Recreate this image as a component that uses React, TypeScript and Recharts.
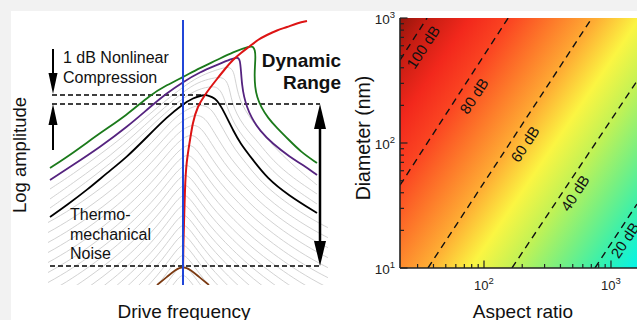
import React from "react";
import {
  ComposedChart,
  Line,
  XAxis,
  YAxis,
  ReferenceLine,
  ReferenceArea,
  Scatter,
} from "recharts";

type Pt = [number, number];
const FONT = "'Liberation Sans', Arial, Helvetica, sans-serif";

// ---------------- Left panel (x: detuning, arbitrary units; y: log amplitude, arbitrary units) ----------------
const blackCurve: Pt[] = [
  [-133, 68], [-116, 80], [-96, 95], [-76, 112], [-56, 128], [-36, 148], [-16, 168], [0, 181],
  [10, 187], [20, 190], [24, 190], [29, 188], [34, 185], [39, 177], [45, 165], [50, 155],
  [57, 142], [70, 125], [84, 107], [105, 90], [134, 72],
];
const purpleCurve: Pt[] = [
  [-133, 105], [-110, 120], [-83, 138], [-56, 158], [-33, 178], [-16, 192], [0, 203], [17, 213],
  [34, 220], [48, 226], [55, 228], [57, 225], [58, 214], [59, 200], [61, 188], [64, 178],
  [68, 168], [77, 154], [90, 141], [107, 128], [120, 120], [134, 110],
];
const greenCurve: Pt[] = [
  [-133, 117], [-110, 132], [-83, 152], [-56, 170], [-33, 190], [-16, 200], [0, 208], [17, 217],
  [34, 225], [50, 233], [67, 239], [70, 238.5], [72, 235], [72.5, 228], [72, 220], [71.5, 210],
  [72, 198], [74, 188], [78, 178], [85, 167], [94, 157], [106, 145], [118, 133], [134, 122],
];
const redBackbone: Pt[] = [
  [0, 15], [0.4, 40], [1, 62], [2, 95], [3.7, 122], [7, 145], [10, 162], [15, 178], [22, 190],
  [27, 197], [34, 206], [42, 216], [50, 225], [58, 232], [67, 239], [75, 245], [84, 250],
  [94, 254.5], [104, 258], [114, 261.5], [124, 264],
];
const brownNoise: Pt[] = [[-26, 0], [-16, 8], [-8, 15], [0, 19], [8, 15], [16, 8], [26, 0]];
const blueResonance: Pt[] = [[0, 0], [0, 265]];

const grayUpper: Pt[][] = [
  [
    [-133, 77], [-110, 93], [-85, 112], [-60, 132], [-38, 153], [-18, 172], [0, 187], [15, 196],
    [30, 199], [35, 197], [39, 192], [42, 184], [46, 173], [52, 160], [60, 148], [70, 137],
    [90, 113], [110, 97], [134, 81],
  ],
  [
    [-133, 86], [-110, 102], [-85, 120], [-60, 140], [-38, 160], [-18, 178], [0, 193], [15, 203],
    [30, 207], [38, 208], [43, 205], [46, 198], [48, 188], [51, 177], [57, 165], [65, 154],
    [75, 143], [90, 124], [110, 107], [134, 91],
  ],
  [
    [-133, 96], [-110, 111], [-85, 129], [-60, 148], [-38, 167], [-18, 184], [0, 198], [15, 208],
    [30, 214], [40, 217], [46, 218], [50, 215], [52, 207], [54, 196], [57, 185], [62, 175],
    [70, 163], [80, 151], [95, 134], [112, 118], [134, 100],
  ],
];
const grayPeaks = [180, 170, 160, 150, 140, 130, 120, 110, 100, 90, 80, 70, 60, 50, 40, 30, 20, 10];
const grayLean = [18, 13.5, 10.5, 8, 6, 4.5, 3.5, 2.3, 1.8, 1.2, 0.9, 0.7, 0.5, 0.3, 0.2, 0, 0, 0];
const grayShapeDx = [-160, -135, -110, -90, -70, -52, -38, -26, -16, -8, -3, 0, 3, 8, 16, 26, 38, 52, 70, 90, 110, 135, 160];
const grayShapeDy = [-130, -118, -103, -89, -74, -58, -44, -31, -18, -7, -1.5, 0, -1.5, -7, -18, -31, -44, -58, -74, -89, -103, -118, -130];
const grayShapeLean = [0, 0, 0, 0, 0, 0, 0.02, 0.05, 0.15, 0.4, 0.75, 1, 1.2, 1.25, 1.15, 1.0, 0.75, 0.6, 0.3, 0.1, 0.05, 0, 0];

const noiseFloor = 19;
const compressionLevel = 181;
const peakLevel = 190;

const toPts = (a: Pt[]) => a.map(([x, y]) => ({ x, y }));
const grayLower = grayPeaks.map((h, k) =>
  grayShapeDx.map((dx, i) => ({ x: dx + grayLean[k] * grayShapeLean[i], y: h + grayShapeDy[i] }))
);

// ---------------- Right panel (x: aspect ratio, y: diameter nm) ----------------
const arMin = 21.8;
const arMax = 1603;
const xTicks = [30, 40, 50, 60, 70, 80, 90, 100, 200, 300, 400, 500, 600, 700, 800, 900, 1000];
const yTicks = [10, 20, 30, 40, 50, 60, 70, 80, 90, 100, 200, 300, 400, 500, 600, 700, 800, 900, 1000];

const contour100: Pt[] = [[21.8, 461], [35.6, 1000]];
const contour80: Pt[] = [[21.8, 46], [155, 1000]];
const contour60: Pt[] = [[36.2, 10], [708, 1000]];
const contour40: Pt[] = [[166, 10], [1603, 313]];
const contour20: Pt[] = [[748, 10], [1603, 32.5]];
const contours = [contour100, contour80, contour60, contour40, contour20];
const contourLabels = [
  { x: 33.1, y: 586, label: "100 dB" },
  { x: 83.4, y: 238, label: "80 dB" },
  { x: 210, y: 98.2, label: "60 dB" },
  { x: 521, y: 39.8, label: "40 dB" },
  { x: 1288, y: 16.7, label: "20 dB" },
];
const dbStops = [110, 100, 90, 80, 70, 60, 50, 40, 30, 20, 10];
const dbColors = [
  "#7a1208", "#c41c12", "#f2281c", "#fb4622", "#fd7a2a", "#feae34",
  "#fbf542", "#c2f255", "#7cf07e", "#36f0ae", "#00f4ec",
];

const isMajor = (v: number) => Math.abs(Math.log10(v) - Math.round(Math.log10(v))) < 1e-9;
const expOf = (v: number) => Math.round(Math.log10(v));
const AX = "#222";

const BottomTick = (p: any) => {
  const { x, y, payload } = p;
  const v = payload.value;
  const maj = isMajor(v);
  return (
    <g>
      <line x1={x} x2={x} y1={y} y2={y - (maj ? 7.5 : 4)} stroke={AX} strokeWidth={1.2} />
      {maj && (
        <text x={x} y={y + 22} textAnchor="middle" fontSize={13} fill={AX} fontFamily={FONT}>
          <tspan>10</tspan>
          <tspan dy={-6.5} fontSize={9.5}>{expOf(v)}</tspan>
        </text>
      )}
    </g>
  );
};
const TopTick = (p: any) => {
  const { x, y, payload } = p;
  const maj = isMajor(payload.value);
  return <line x1={x} x2={x} y1={y} y2={y + (maj ? 7.5 : 4)} stroke={AX} strokeWidth={1.2} />;
};
const LeftTick = (p: any) => {
  const { x, y, payload } = p;
  const v = payload.value;
  const maj = isMajor(v);
  return (
    <g>
      <line x1={x} x2={x + (maj ? 7.5 : 4)} y1={y} y2={y} stroke={AX} strokeWidth={1.2} />
      {maj && (
        <text x={x - 5} y={y + 6} textAnchor="end" fontSize={13.5} fill={AX} fontFamily={FONT}>
          <tspan>10</tspan>
          <tspan dy={-6.5} fontSize={9.5}>{expOf(v)}</tspan>
        </text>
      )}
    </g>
  );
};

const ContourLabel = (p: any) => {
  const { cx, cy, payload } = p;
  return (
    <text
      x={cx}
      y={cy}
      transform={`rotate(-56.7 ${cx} ${cy})`}
      textAnchor="middle"
      dominantBaseline="central"
      fontSize={15}
      fill="#111"
      fontFamily={FONT}
    >
      {payload.label}
    </text>
  );
};

const makeHead = (dir: "up" | "down", w: number, len: number) => (p: any) => {
  const { cx, cy } = p;
  const s = dir === "up" ? 1 : -1;
  return (
    <polygon
      points={`${cx},${cy} ${cx - w / 2},${cy + s * len} ${cx + w / 2},${cy + s * len}`}
      fill="#000"
    />
  );
};

const smallUp: Pt[] = [[-130, compressionLevel]];
const smallDown: Pt[] = [[-130, 191]];
const bigUp: Pt[] = [[137, compressionLevel]];
const bigDown: Pt[] = [[137, noiseFloor]];

const DASH = { stroke: "#000", strokeWidth: 1.3, strokeDasharray: "5 3" };

const LeftPanel = () => (
  <ComposedChart width={340} height={320} margin={{ top: 20, right: 12, bottom: 35, left: 48 }}>
    <XAxis type="number" dataKey="x" domain={[-135, 145]} hide allowDataOverflow />
    <YAxis type="number" domain={[0, 265]} hide allowDataOverflow />
    {grayLower.map((d, i) => (
      <Line key={"gl" + i} data={d} dataKey="y" type="basis" stroke="#cdcdcd" strokeWidth={0.9} dot={false} isAnimationActive={false} />
    ))}
    {grayUpper.map((d, i) => (
      <Line key={"gu" + i} data={toPts(d)} dataKey="y" type="basis" stroke="#cdcdcd" strokeWidth={0.9} dot={false} isAnimationActive={false} />
    ))}
    <ReferenceLine segment={[{ x: -133, y: noiseFloor }, { x: 137, y: noiseFloor }]} {...DASH} />
    <ReferenceLine segment={[{ x: -131, y: compressionLevel }, { x: 137, y: compressionLevel }]} {...DASH} />
    <ReferenceLine segment={[{ x: -131, y: peakLevel }, { x: 24, y: peakLevel }]} {...DASH} />
    <Line data={toPts(blackCurve)} dataKey="y" type="basis" stroke="#000" strokeWidth={1.8} dot={false} isAnimationActive={false} />
    <Line data={toPts(purpleCurve)} dataKey="y" type="basis" stroke="#55237f" strokeWidth={1.8} dot={false} isAnimationActive={false} />
    <Line data={toPts(greenCurve)} dataKey="y" type="basis" stroke="#1b7a1b" strokeWidth={1.8} dot={false} isAnimationActive={false} />
    <Line data={toPts(brownNoise)} dataKey="y" type="basis" stroke="#7b3a12" strokeWidth={1.8} dot={false} isAnimationActive={false} />
    <Line data={toPts(redBackbone)} dataKey="y" type="natural" stroke="#dd1414" strokeWidth={2} dot={false} isAnimationActive={false} />
    <Line data={toPts(blueResonance)} dataKey="y" type="linear" stroke="#2146d8" strokeWidth={2} dot={false} isAnimationActive={false} />
    <ReferenceLine segment={[{ x: -130, y: 236 }, { x: -130, y: 205 }]} stroke="#000" strokeWidth={2} />
    <ReferenceLine segment={[{ x: -130, y: 165 }, { x: -130, y: 135 }]} stroke="#000" strokeWidth={2} />
    <ReferenceLine segment={[{ x: 137, y: 165 }, { x: 137, y: 35 }]} stroke="#000" strokeWidth={2.5} />
    <Scatter data={toPts(smallUp)} dataKey="y" shape={makeHead("up", 9, 21)} isAnimationActive={false} />
    <Scatter data={toPts(smallDown)} dataKey="y" shape={makeHead("down", 9, 21)} isAnimationActive={false} />
    <Scatter data={toPts(bigUp)} dataKey="y" shape={makeHead("up", 12, 25)} isAnimationActive={false} />
    <Scatter data={toPts(bigDown)} dataKey="y" shape={makeHead("down", 12, 25)} isAnimationActive={false} />
  </ComposedChart>
);

// gradient geometry (style): perpendicular to the contour direction, local chart pixels
const GRAD = { x1: -57.3, y1: 169.6, x2: 233.3, y2: 366.4 };

const RightPanel = () => (
  <ComposedChart width={297} height={320} margin={{ top: 18, right: 0, bottom: 0, left: 0 }}>
    <defs>
      <linearGradient id="drGrad" gradientUnits="userSpaceOnUse" x1={GRAD.x1} y1={GRAD.y1} x2={GRAD.x2} y2={GRAD.y2}>
        {dbStops.map((db, i) => (
          <stop key={db} offset={(110 - db) / 100} stopColor={dbColors[i]} />
        ))}
      </linearGradient>
    </defs>
    <XAxis
      xAxisId="b" type="number" dataKey="x" scale="log" domain={[arMin, arMax]} allowDataOverflow
      ticks={xTicks} interval={0} tickSize={0} tickMargin={0} tick={BottomTick} tickLine={false}
      height={52} axisLine={{ stroke: AX, strokeWidth: 1.6 }}
    />
    <XAxis
      xAxisId="t" orientation="top" type="number" dataKey="x" scale="log" domain={[arMin, arMax]} allowDataOverflow
      ticks={xTicks} interval={0} tickSize={0} tickMargin={0} tick={TopTick} tickLine={false}
      height={0} axisLine={{ stroke: AX, strokeWidth: 1.6 }}
    />
    <YAxis
      yAxisId="l" type="number" scale="log" domain={[10, 1000]} allowDataOverflow
      ticks={yTicks} interval={0} tickSize={0} tickMargin={0} tick={LeftTick} tickLine={false}
      width={60} axisLine={{ stroke: AX, strokeWidth: 1.6 }}
    />
    <ReferenceArea xAxisId="b" yAxisId="l" x1={arMin} x2={arMax} y1={10} y2={1000} fill="url(#drGrad)" fillOpacity={1} stroke="none" />
    {contours.map((c, i) => (
      <Line key={"c" + i} xAxisId="b" yAxisId="l" data={toPts(c)} dataKey="y" type="linear" stroke="#111" strokeWidth={1.4} strokeDasharray="7 5" dot={false} isAnimationActive={false} />
    ))}
    <Scatter xAxisId="b" yAxisId="l" data={contourLabels} dataKey="y" shape={ContourLabel} isAnimationActive={false} />
  </ComposedChart>
);

export default function App() {
  return (
    <div style={{ position: "fixed", left: 0, top: 0, width: 637, height: 320, background: "#f2f2f2", overflow: "hidden" }}>
      <div style={{ position: "absolute", left: 11, top: 11, right: 0, bottom: 0, background: "#fff" }} />
      <div style={{ position: "absolute", left: 0, top: 0 }}>
        <LeftPanel />
      </div>
      <div style={{ position: "absolute", left: 340, top: 0 }}>
        <RightPanel />
      </div>
      <svg width={637} height={320} style={{ position: "absolute", left: 0, top: 0, pointerEvents: "none" }} fontFamily={FONT} fill="#111">
        <text x={26} y={155} transform="rotate(-90 26 155)" textAnchor="middle" fontSize={18.5}>Log amplitude</text>
        <text x={184} y={318} textAnchor="middle" fontSize={19}>Drive frequency</text>
        <text x={63} y={63} fontSize={16}>1 dB Nonlinear</text>
        <text x={63} y={83} fontSize={16}>Compression</text>
        <text x={341} y={67} textAnchor="end" fontSize={19} fontWeight="bold">Dynamic</text>
        <text x={341} y={89} textAnchor="end" fontSize={19} fontWeight="bold">Range</text>
        <text x={70} y={220} fontSize={16}>Thermo-</text>
        <text x={70} y={240} fontSize={16}>mechanical</text>
        <text x={70} y={259} fontSize={16}>Noise</text>
        <text x={370} y={138} transform="rotate(-90 370 138)" textAnchor="middle" fontSize={19.5}>Diameter (nm)</text>
        <text x={523} y={318} textAnchor="middle" fontSize={19}>Aspect ratio</text>
      </svg>
    </div>
  );
}
